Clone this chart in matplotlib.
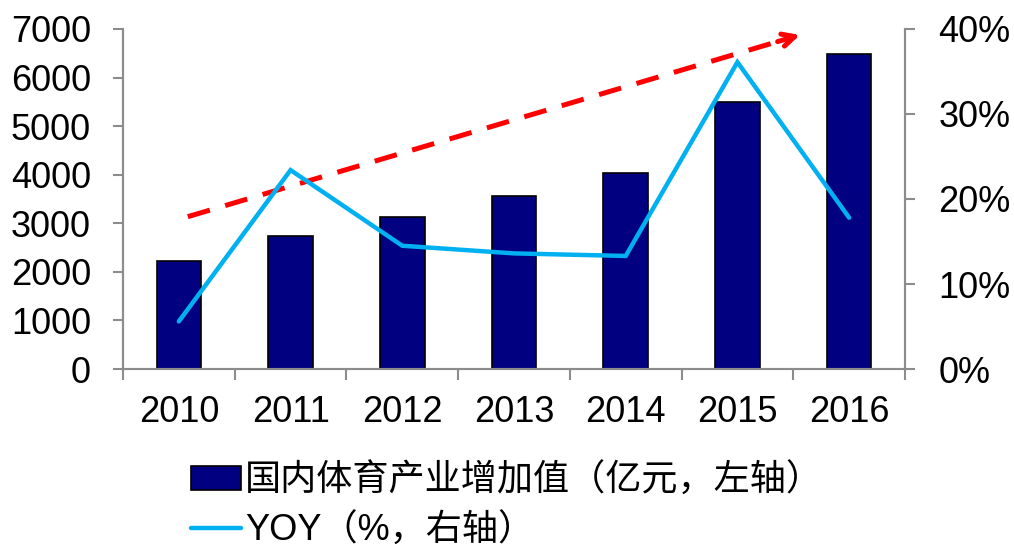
import matplotlib.pyplot as plt
import numpy as np
from matplotlib.ticker import FuncFormatter, FixedLocator

plt.rcParams['font.family'] = ['Liberation Sans', 'Noto Sans CJK SC', 'DejaVu Sans']

years = ['2010', '2011', '2012', '2013', '2014', '2015', '2016']
value_added = [2220, 2740, 3136, 3563, 4041, 5494, 6475]   # 亿元
yoy = [5.6, 23.4, 14.5, 13.6, 13.3, 36.1, 17.8]              # %

bar_color = '#000080'
line_color = '#00B0F0'
axis_gray = '#8c8c8c'

fig = plt.figure(figsize=(10.14, 5.52), dpi=100)
ax = fig.add_axes([0.1213, 0.3315, 0.7712, 0.616])
ax2 = ax.twinx()

x = np.arange(len(years))
bars = ax.bar(x, value_added, width=0.4, color=bar_color, edgecolor='black',
              linewidth=1.2, label='国内体育产业增加值（亿元，左轴）')
line, = ax2.plot(x, yoy, color=line_color, lw=3.2, solid_capstyle='round',
                 solid_joinstyle='miter', label='YOY（%，右轴）')

# trend arrow: dashed shaft plus solid open head
x0, y0 = 0.08, 3136
x1, y1 = 5.56, 6877
slope = (y1 - y0) / (x1 - x0)
ax.plot([x0, x1 - 0.12], [y0, y1 - 0.12 * slope],
        color='red', lw=3.6, dashes=(4.6, 3.2), zorder=3)
ax.annotate('', xy=(x1, y1), xytext=(x1 - 0.2, y1 - 0.2 * slope),
            arrowprops=dict(arrowstyle='->,head_length=0.9,head_width=0.45',
                            color='red', lw=3.6, shrinkA=0, shrinkB=0), zorder=3)

ax.set_xlim(-0.5, len(years) - 0.5)
ax.set_ylim(0, 7000)
ax2.set_ylim(0, 40)
ax.set_yticks(np.arange(0, 7001, 1000))
ax2.set_yticks(np.arange(0, 41, 10))
ax2.yaxis.set_major_formatter(FuncFormatter(lambda v, p: f'{v:.0f}%'))

# category boundaries carry the ticks, centres carry the labels
ax.xaxis.set_major_locator(FixedLocator(np.arange(-0.5, len(years), 1.0)))
ax.xaxis.set_minor_locator(FixedLocator(x))
ax.set_xticklabels([])
ax.set_xticklabels(years, minor=True)
ax.tick_params(axis='x', which='major', length=8, width=1.5, color=axis_gray, direction='out')
ax.tick_params(axis='x', which='minor', length=0, pad=19, labelsize=26)

ax.tick_params(axis='y', length=7, width=1.5, color=axis_gray, labelsize=26, pad=16)
ax2.tick_params(axis='y', length=7, width=1.5, color=axis_gray, labelsize=26, pad=17)

for a in (ax, ax2):
    a.spines['top'].set_visible(False)
    for s in ('left', 'right', 'bottom'):
        a.spines[s].set_color(axis_gray)
        a.spines[s].set_linewidth(1.5)

fig.legend(handles=[bars, line], loc='upper left', bbox_to_anchor=(0.174, 0.186),
           frameon=False, ncol=1, fontsize=26, handlelength=1.4, handleheight=0.65,
           handletextpad=0.1, labelspacing=0.4, borderaxespad=0)

fig.savefig('out.png', dpi=100)
